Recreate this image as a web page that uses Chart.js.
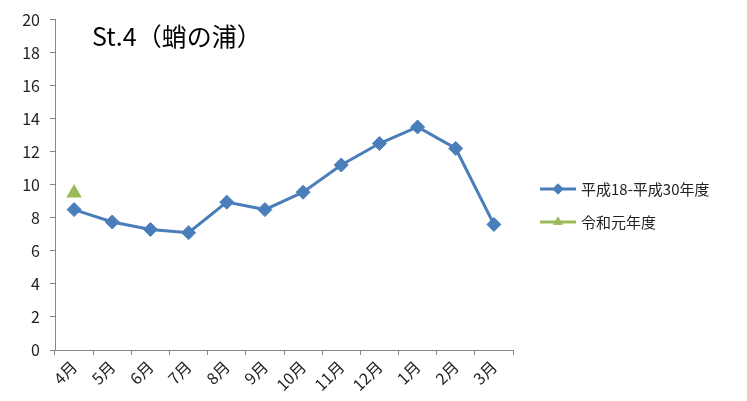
<!DOCTYPE html>
<html>
<head>
<meta charset="utf-8">
<script src="https://cdn.jsdelivr.net/npm/chart.js@4.4.1/dist/chart.umd.min.js"></script>
<style>
    html, body { margin: 0; padding: 0; background: #fff; }
    #wrap { width: 747px; height: 401px; }
</style>
</head>
<body>
<div id="wrap"><canvas id="chart" width="747" height="401"></canvas></div>
<script>
const months = ['4月', '5月', '6月', '7月', '8月', '9月', '10月', '11月', '12月', '1月', '2月', '3月'];
const avgValues = [8.5, 7.75, 7.3, 7.1, 8.95, 8.5, 9.55, 11.2, 12.5, 13.5, 12.2, 7.6];
const reiwaValues = [9.5, null, null, null, null, null, null, null, null, null, null, null];
const seriesNames = ['平成18-平成30年度', '令和元年度'];
const chartTitle = 'St.4（蛸の浦）';

const FONT = '"Noto Sans CJK JP", "Noto Sans", sans-serif';
const BLUE = '#4a7ebb';
const GREEN = '#9bbb59';
const AXIS = '#868686';

// title sits inside the plot area, legend to the right of it
const overlay = {
    id: 'overlay',
    afterDraw(chart) {
        const ctx = chart.ctx;
        ctx.save();
        ctx.fillStyle = '#000';
        ctx.font = '25px ' + FONT;
        ctx.textBaseline = 'middle';
        ctx.fillText(chartTitle, 92, 36);

        const items = [
            { name: seriesNames[0], color: BLUE, style: 'rectRot', y: 189 },
            { name: seriesNames[1], color: GREEN, style: 'triangle', y: 222 }
        ];
        items.forEach(it => {
            ctx.strokeStyle = it.color;
            ctx.lineWidth = 3;
            ctx.beginPath();
            ctx.moveTo(540, it.y);
            ctx.lineTo(576, it.y);
            ctx.stroke();
            ctx.fillStyle = it.color;
            Chart.helpers.drawPoint(ctx, { pointStyle: it.style, radius: 5.5, borderWidth: 0 }, 558, it.y);
            ctx.fill();
            ctx.fillStyle = '#222';
            ctx.font = '15px ' + FONT;
            ctx.fillText(it.name, 581, it.y);
        });
        ctx.restore();
    }
};

new Chart(document.getElementById('chart'), {
    type: 'line',
    data: {
        labels: months,
        datasets: [
            {
                label: seriesNames[0],
                data: avgValues,
                borderColor: BLUE,
                backgroundColor: BLUE,
                borderWidth: 3,
                pointStyle: 'rectRot',
                pointRadius: 7,
                pointBorderWidth: 1,
                tension: 0
            },
            {
                label: seriesNames[1],
                data: reiwaValues,
                borderColor: GREEN,
                backgroundColor: GREEN,
                borderWidth: 3,
                pointStyle: 'triangle',
                pointRadius: 9,
                pointBorderWidth: 0
            }
        ]
    },
    options: {
        responsive: false,
        animation: false,
        layout: { padding: { top: 18, right: 234, left: 0, bottom: 0 } },
        plugins: {
            legend: { display: false },
            title: { display: false },
            tooltip: { enabled: false }
        },
        scales: {
            x: {
                offset: true,
                grid: { offset: true, drawOnChartArea: false, drawTicks: true, tickLength: 5, color: AXIS },
                border: { color: AXIS, width: 1 },
                ticks: { color: '#222', font: { family: FONT, size: 16 }, minRotation: 45, maxRotation: 45, padding: 2 },
                afterFit(scale) { scale.height = 51; }
            },
            y: {
                min: 0,
                max: 20,
                grid: { drawOnChartArea: false, drawTicks: true, tickLength: 5, color: AXIS },
                border: { color: AXIS, width: 1 },
                ticks: { stepSize: 2, color: '#222', font: { family: FONT, size: 16 }, padding: 10 },
                afterFit(scale) { scale.width = 55; }
            }
        }
    },
    plugins: [overlay]
});
</script>
</body>
</html>
